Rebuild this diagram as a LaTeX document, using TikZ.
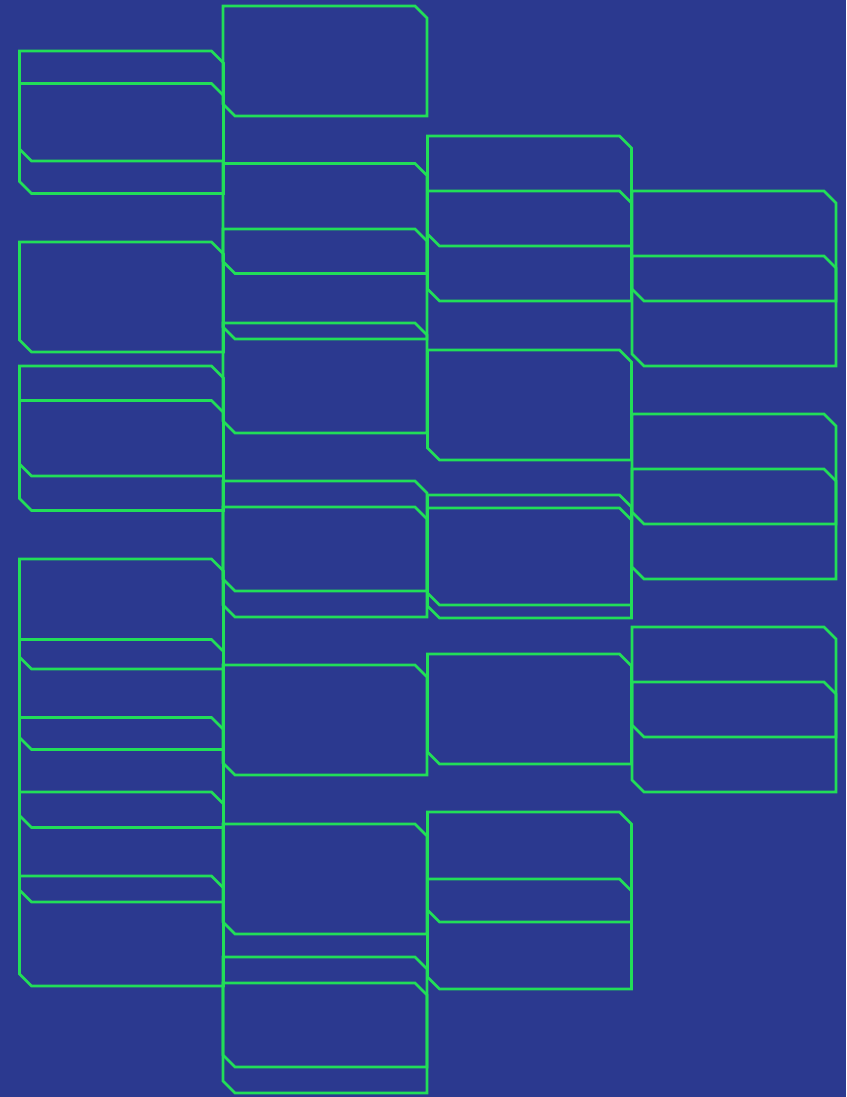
\documentclass[tikz,border=0pt]{standalone}
\definecolor{bgblue}{RGB}{43,57,143}
\definecolor{cardgreen}{RGB}{34,222,88}
\tikzset{
  cardline/.style={draw=cardgreen, line width=2.7pt, line join=miter},
  card/.pic={
    \path[cardline] (0,0) -- (192,0) -- (204,12) -- (204,110) -- (12,110) -- (0,98) -- cycle;
  }
}
\begin{document}
\begin{tikzpicture}[x=1pt,y=-1pt]
\fill[bgblue] (0,0) rectangle (846,1097);
\useasboundingbox (0,0) rectangle (846,1097);
% column 1
\foreach \t [count=\i] in {51,83.5,242,366,400.5,559,639.5,717.5,792,876}
  \pic (a\i) at (19.5,\t) {card};
% column 2
\foreach \t [count=\i] in {6,163.5,229,323,481,507,665,824,957,983}
  \pic (b\i) at (223,\t) {card};
% column 3
\foreach \t [count=\i] in {136,191,350,495,508,654,812,879}
  \pic (c\i) at (427.5,\t) {card};
% column 4
\foreach \t [count=\i] in {191,256,414,469,627,682}
  \pic (d\i) at (632,\t) {card};
\end{tikzpicture}
\end{document}
